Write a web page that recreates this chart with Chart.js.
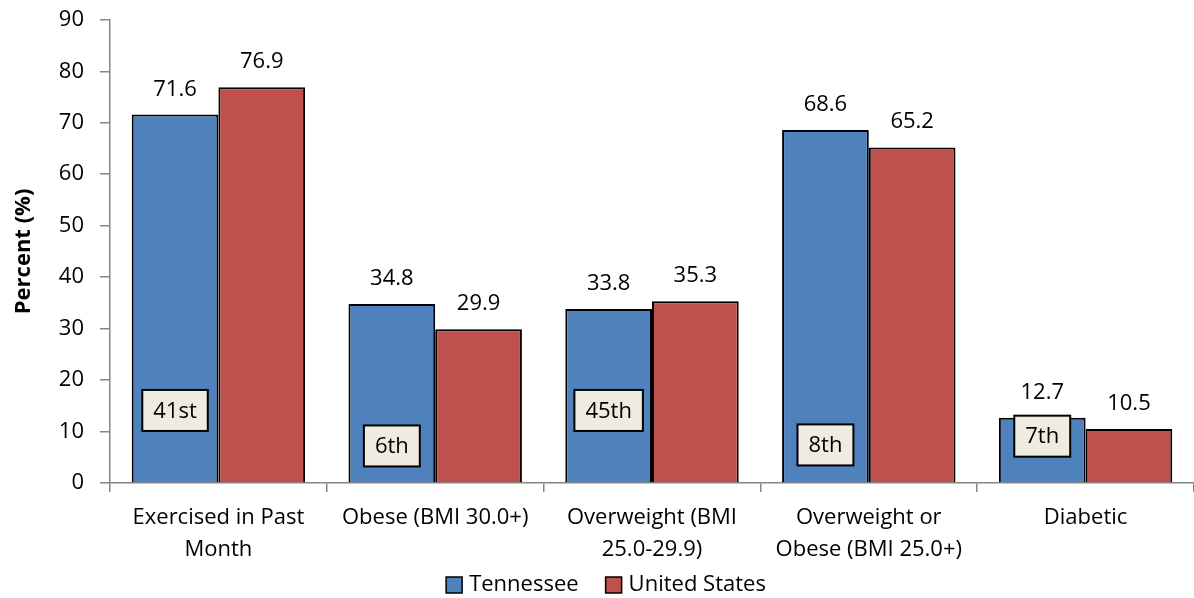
<!DOCTYPE html>
<html>
<head>
<meta charset="utf-8">
<script src="https://cdn.jsdelivr.net/npm/chart.js@4/dist/chart.umd.min.js"></script>
<style>
  html, body { margin: 0; padding: 0; background: #fff; }
  #wrap { width: 1194px; height: 598px; }
</style>
</head>
<body>
<div id="wrap"><canvas id="c" width="1194" height="598"></canvas></div>
<script>
const categories = [
  ["Exercised in Past", "Month"],
  "Obese (BMI 30.0+)",
  ["Overweight (BMI", "25.0-29.9)"],
  ["Overweight or", "Obese (BMI 25.0+)"],
  "Diabetic"
];
const tennessee = [71.6, 34.8, 33.8, 68.6, 12.7];
const unitedStates = [76.9, 29.9, 35.3, 65.2, 10.5];
const ranks = ["41st", "6th", "45th", "8th", "7th"];
const rankLevels = [14.1, 7.2, 14.1, 7.4, 9.1];
const yTicks = [0, 10, 20, 30, 40, 50, 60, 70, 80, 90];

const FONT = "'Open Sans', Lato, sans-serif";
const FS = 22;

// Value labels above each bar
const valueLabels = {
  id: 'valueLabels',
  afterDatasetsDraw(chart) {
    const ctx = chart.ctx;
    ctx.save();
    ctx.font = `${FS}px ${FONT}`;
    ctx.fillStyle = '#000';
    ctx.textAlign = 'center';
    ctx.textBaseline = 'alphabetic';
    chart.data.datasets.forEach((ds, di) => {
      chart.getDatasetMeta(di).data.forEach((bar, i) => {
        ctx.fillText(ds.data[i].toFixed(1), bar.x, bar.y - 19);
      });
    });
    ctx.restore();
  }
};

// State rank boxes inside the Tennessee bars
const rankBoxes = {
  id: 'rankBoxes',
  afterDatasetsDraw(chart) {
    const ctx = chart.ctx;
    const y = chart.scales.y;
    const meta = chart.getDatasetMeta(0);
    ctx.save();
    ctx.font = `${FS}px ${FONT}`;
    ctx.textAlign = 'center';
    ctx.textBaseline = 'middle';
    ranks.forEach((r, i) => {
      const cx = meta.data[i].x;
      const cy = y.getPixelForValue(rankLevels[i]);
      const w = ctx.measureText(r).width + 22;
      const h = 41;
      ctx.fillStyle = '#EEECE1';
      ctx.fillRect(cx - w / 2, cy - h / 2, w, h);
      ctx.strokeStyle = '#000';
      ctx.lineWidth = 2;
      ctx.strokeRect(cx - w / 2, cy - h / 2, w, h);
      ctx.fillStyle = '#000';
      ctx.fillText(r, cx, cy + 1);
    });
    ctx.restore();
  }
};

// Legend row under the category labels
const bottomLegend = {
  id: 'bottomLegend',
  afterDraw(chart) {
    const ctx = chart.ctx;
    const ds = chart.data.datasets;
    ctx.save();
    ctx.font = `${FS}px ${FONT}`;
    ctx.textBaseline = 'middle';
    ctx.textAlign = 'left';
    const box = 16, gapBox = 7, gapItem = 27;
    const widths = ds.map(d => box + gapBox + ctx.measureText(d.label).width);
    const total = widths.reduce((a, b) => a + b, 0) + gapItem * (ds.length - 1);
    let x = chart.width / 2 - total / 2 + 9;
    const cy = 585;
    ds.forEach((d, i) => {
      ctx.fillStyle = d.backgroundColor;
      ctx.fillRect(x, cy - box / 2, box, box);
      ctx.strokeStyle = '#000';
      ctx.lineWidth = 1.5;
      ctx.strokeRect(x, cy - box / 2, box, box);
      ctx.fillStyle = '#000';
      ctx.fillText(d.label, x + box + gapBox, cy);
      x += widths[i] + gapItem;
    });
    ctx.restore();
  }
};

new Chart(document.getElementById('c'), {
  type: 'bar',
  data: {
    labels: categories,
    datasets: [
      { label: 'Tennessee', data: tennessee, backgroundColor: '#4F81BD', borderColor: '#000', borderWidth: 2, categoryPercentage: 0.8, barPercentage: 1.0 },
      { label: 'United States', data: unitedStates, backgroundColor: '#C0504D', borderColor: '#000', borderWidth: 2, categoryPercentage: 0.8, barPercentage: 1.0 }
    ]
  },
  options: {
    responsive: false,
    animation: false,
    layout: { padding: { top: 0, right: 0, left: 0, bottom: 0 } },
    plugins: {
      legend: { display: false },
      tooltip: { enabled: false }
    },
    scales: {
      x: {
        afterFit(axis) { axis.height = 115; },
        grid: { display: true, drawOnChartArea: false, offset: true, tickLength: 9, color: '#868686', lineWidth: 1.5 },
        border: { color: '#868686', width: 1.5 },
        ticks: { font: { family: FONT, size: FS, lineHeight: 1.45 }, color: '#000', maxRotation: 0, padding: 10 }
      },
      y: {
        min: 0,
        max: 90,
        afterFit(axis) { axis.width = 110; },
        afterBuildTicks(axis) { axis.ticks = yTicks.map(v => ({ value: v })); },
        grid: { display: true, drawOnChartArea: false, tickLength: 10, color: '#868686', lineWidth: 1.5 },
        border: { color: '#868686', width: 1.5 },
        ticks: { font: { family: FONT, size: FS, lineHeight: 0.35 }, color: '#000', padding: 16 },
        title: { display: true, text: 'Percent (%)', font: { family: FONT, size: 22, weight: 'bold' }, color: '#000', padding: { top: 11, bottom: 0 } }
      }
    }
  },
  plugins: [valueLabels, rankBoxes, bottomLegend]
});
</script>
</body>
</html>
